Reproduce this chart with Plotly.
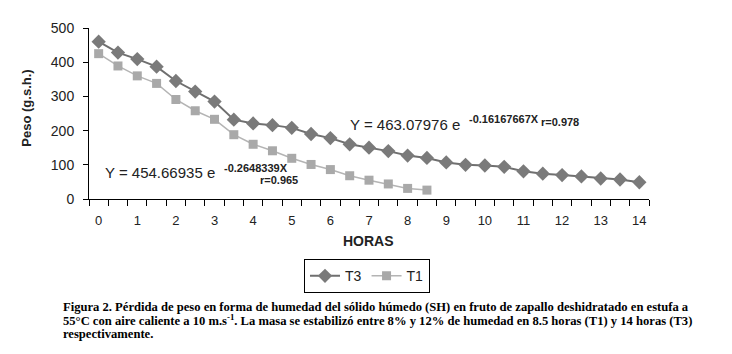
import plotly.graph_objects as go

hours_t3 = [0, 0.5, 1, 1.5, 2, 2.5, 3, 3.5, 4, 4.5, 5, 5.5, 6, 6.5, 7, 7.5,
            8, 8.5, 9, 9.5, 10, 10.5, 11, 11.5, 12, 12.5, 13, 13.5, 14]
peso_t3 = [460, 428, 409, 387, 345, 314, 285, 232, 221, 216, 208, 190, 178, 160,
           150, 140, 127, 120, 107, 100, 98, 94, 81, 74, 70, 66, 60, 57, 49]
hours_t1 = [0, 0.5, 1, 1.5, 2, 2.5, 3, 3.5, 4, 4.5, 5, 5.5, 6, 6.5, 7, 7.5, 8, 8.5]
peso_t1 = [425, 389, 360, 338, 291, 258, 233, 188, 160, 141, 119, 101, 86, 68,
           55, 44, 31, 26]
x_tick_labels = [str(i) for i in range(15)]

SANS = "Liberation Sans, Arial, sans-serif"
SERIF = "Liberation Serif, Times New Roman, serif"

# page body has an 8px default margin: shrink the figure so it fits the window
OFF = 8
W, H = 732 - OFF, 354 - OFF
PL, PR, PT, PB = 89, 649, 23, 199          # plot area in window pixels
L, R, T, B = PL - OFF, 732 - PR, PT - OFF, 354 - PB
PW, PH = PR - PL, PB - PT


def px(x):
    return (x - PL) / PW


def py(y):
    return (PB - y) / PH


fig = go.Figure()
fig.add_trace(go.Scatter(
    x=hours_t3, y=peso_t3, name="T3", mode="lines+markers",
    line=dict(color="#6f6f6f", width=2),
    marker=dict(symbol="diamond", size=11, color="#7a7a7a"),
))
fig.add_trace(go.Scatter(
    x=hours_t1, y=peso_t1, name="T1", mode="lines+markers",
    line=dict(color="#b4b4b4", width=1.5),
    marker=dict(symbol="square", size=9, color="#a9a9a9"),
))

ann = []


def text(x, y, s, size, bold=False, xanchor="left", angle=0, family=SANS, color="#222"):
    ann.append(dict(
        x=px(x), y=py(y), xref="paper", yref="paper",
        text=f"<b>{s}</b>" if bold else s, showarrow=False,
        xanchor=xanchor, yanchor="middle", textangle=angle,
        font=dict(family=family, size=size, color=color),
    ))


text(348, 122, "Y = 463.07976 e", 15)
text(467, 117, "-0.16167667X", 11, bold=True)
text(539, 120, "r=0.978", 11, bold=True)
text(103, 172, "Y = 454.66935 e", 15)
text(222, 167, "-0.2648339X", 11, bold=True)
text(258, 179, "r=0.965", 11, bold=True)
text(27, 106, "Peso (g.s.h.)", 13, bold=True, xanchor="center", angle=-90)
text(368, 242, "HORAS", 14, bold=True, xanchor="center")

caption = [
    "Figura 2. Pérdida de peso en forma de humedad del sólido húmedo (SH) en fruto de zapallo deshidratado en estufa a",
    "55°C con aire caliente a 10 m.s<sup>-1</sup>. La masa se estabilizó entre 8% y 12% de humedad en 8.5 horas (T1) y 14 horas (T3)",
    "respectivamente.",
]
for i, line in enumerate(caption):
    text(61, 310 + 14 * i, line, 12.6, bold=True, family=SERIF, color="#000")

fig.update_layout(
    width=W, height=H,
    margin=dict(l=L, r=R, t=T, b=B, pad=0),
    paper_bgcolor="white", plot_bgcolor="white",
    showlegend=True,
    legend=dict(
        orientation="h", x=px(367), y=py(261), xanchor="center", yanchor="top",
        bordercolor="black", borderwidth=1, bgcolor="white",
        font=dict(family=SANS, size=14, color="#222"),
        itemwidth=30, tracegroupgap=0,
    ),
    annotations=ann,
    xaxis=dict(
        range=[-0.25, 14.25], tickvals=list(range(15)), ticktext=x_tick_labels,
        ticks="", showgrid=False, zeroline=False,
        showline=True, linecolor="black", linewidth=1,
        tickfont=dict(family=SANS, size=13, color="#222"),
        ticklabelstandoff=9,
        minor=dict(ticks="outside", tick0=-0.25, dtick=0.5, ticklen=6,
                   tickcolor="black", tickwidth=1, showgrid=False),
    ),
    yaxis=dict(
        range=[0, 500], dtick=100, ticks="outside", ticklen=5,
        tickcolor="black", showgrid=False, zeroline=False,
        showline=True, linecolor="black", linewidth=1,
        tickfont=dict(family=SANS, size=14, color="#222"),
        ticklabelstandoff=6,
    ),
)

fig.write_html("out.html")
